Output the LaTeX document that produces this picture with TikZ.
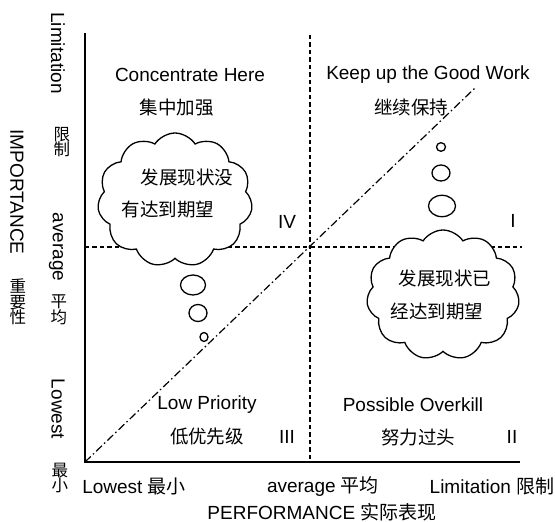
\documentclass[tikz,border=0pt]{standalone}
\usepackage{fontspec}
\setmainfont{Liberation Sans}
\newfontfamily\cjk{Noto Sans CJK SC}
\usetikzlibrary{scopes,positioning,shapes.symbols}

\begin{document}
\begin{tikzpicture}[x=1pt,y=1pt,
    axisline/.style={draw=black,line width=1.8pt},
    avgline/.style={draw=black,line width=1.4pt,dash pattern=on 4.5pt off 3pt},
    diag/.style={draw=black,line width=1.2pt,dash pattern=on 8pt off 3pt on 1.5pt off 3pt},
    lab/.style={font=\fontsize{19}{22}\selectfont,inner sep=0pt},
    zh/.style={font=\cjk\fontsize{18.5}{22}\selectfont,inner sep=0pt},
    vlab/.style={lab,rotate=-90},
    vzh/.style={font=\cjk\fontsize{16.5}{15.5}\selectfont,align=center,inner sep=0pt},
    thought/.style={cloud,cloud puffs=11,cloud puff arc=115,cloud ignores aspect,draw,fill=white,line width=1.3pt,inner sep=0pt},
    bubble/.style={draw,fill=white,line width=1.3pt},
]
    \useasboundingbox (-85,-60) rectangle (470,462);

    %%%

    % axes and the two average lines
    \coordinate (O) at (0,0);
    \coordinate (ytop) at (0,429);
    \coordinate (xend) at (435,0);
    \coordinate (avgx top) at (225,427);
    \coordinate (avgx low) at (225,0);
    \coordinate (avgy left) at (0,215);
    \coordinate (avgy right) at (437,215);
    \coordinate (diag end) at (390,374);

    \draw[avgline] (avgx top) -- (avgx low);
    \draw[avgline] (avgy left) -- (avgy right);
    \draw[diag] (O) -- (diag end);
    \draw[axisline] (ytop) -- (O) -- (xend);

    % quadrant labels
    \node[lab] (q4en) at (105,387) {Concentrate Here};
    \node[zh]  (q4zh) at (92,354) {集中加强};
    \node[lab] (q1en) at (343,387) {Keep up the Good Work};
    \node[zh]  (q1zh) at (326,355) {继续保持};
    \node[lab] (q3en) at (122,57) {Low Priority};
    \node[zh]  (q3zh) at (122,25) {低优先级};
    \node[lab] (q2en) at (328,57) {Possible Overkill};
    \node[zh]  (q2zh) at (333,25) {努力过头};
    \node[lab] (n4) at (202,240) {IV};
    \node[lab] (n1) at (428,241) {I};
    \node[lab] (n3) at (202,25) {III};
    \node[lab] (n2) at (427,25) {II};

    % thoughts
    {[bubble]
        \draw (119,125) ellipse (4 and 4.5);
        \draw (113,149) ellipse (9 and 8.5);
        \draw (108,177) ellipse (12.5 and 10);
        \draw (356,315) ellipse (4.5 and 4.3);
        \draw (356,289) ellipse (9 and 8);
        \draw (357,256) ellipse (13.5 and 10.7);
    }
    \node[thought,minimum width=155pt,minimum height=134pt] (notyet) at (90,262) {};
    \node[zh] (notyet1) at (102,285) {发展现状没};
    \node[zh] (notyet2) at (83,252) {有达到期望};
    \node[thought,minimum width=153pt,minimum height=130pt] (reached) at (358,167) {};
    \node[zh] (reached1) at (360,184) {发展现状已};
    \node[zh] (reached2) at (352,150) {经达到期望};

    % horizontal axis
    \node[lab] (xlow) at (49,-24) {Lowest {\cjk 最小}};
    \node[lab] (xavg) at (238,-24) {average {\cjk 平均}};
    \node[lab] (xlim) at (407,-24) {Limitation {\cjk 限制}};
    \node[lab] (xname) at (237,-50) {PERFORMANCE {\cjk 实际表现}};

    % vertical axis
    \node[vlab] (ylim) at (-27,409) {Limitation};
    \node[vzh]  (ylimzh) at (-23,320) {限\\制};
    \node[vlab] (yavg) at (-29,215) {average};
    \node[vzh]  (yavgzh) at (-26,152) {平\\均};
    \node[vlab] (ylow) at (-27,53) {Lowest};
    \node[vzh]  (ylowzh) at (-25,-16) {最\\小};
    \node[vlab] (yname) at (-68,270) {IMPORTANCE};
    \node[vzh]  (ynamezh) at (-67,160) {重\\要\\性};

\end{tikzpicture}
\end{document}
